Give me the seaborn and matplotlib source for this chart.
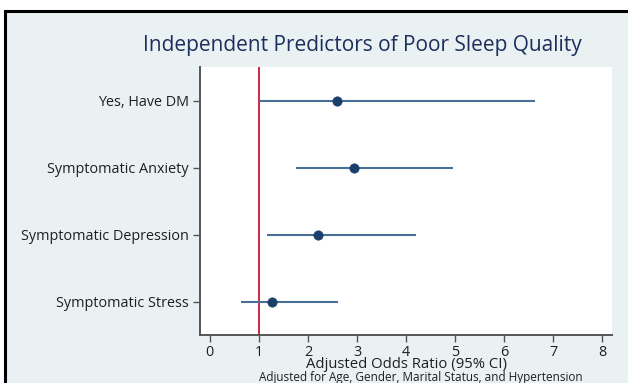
import matplotlib
matplotlib.use("Agg")
import matplotlib.pyplot as plt
import seaborn as sns
import pandas as pd
from matplotlib.patches import Rectangle

# Adjusted odds ratios with 95% confidence intervals
predictors = ["Yes, Have DM", "Symptomatic Anxiety", "Symptomatic Depression", "Symptomatic Stress"]
odds_ratio = [2.59, 2.94, 2.21, 1.26]
ci_lower = [1.01, 1.75, 1.16, 0.63]
ci_upper = [6.62, 4.95, 4.20, 2.61]
x_ticks = [0, 1, 2, 3, 4, 5, 6, 7, 8]

df = pd.DataFrame({"predictor": predictors, "or": odds_ratio,
                   "lo": ci_lower, "hi": ci_upper})

sns.set_theme(style="white")
plt.rcParams["font.family"] = ["Open Sans", "DejaVu Sans"]

bg = "#eaf1f3"
navy = "#1a3f6b"
line_col = "#4a6f96"
text_col = "#1f1f1f"

fig = plt.figure(figsize=(6.28, 3.83), dpi=100)
fig.patch.set_facecolor("white")

# Framed panel background, behind the axes
frame = Rectangle((5 / 628, -0.1), 1.1, 1 - 11 / 383 + 0.1,
                  transform=fig.transFigure, facecolor=bg,
                  edgecolor="black", linewidth=2.2, zorder=-10)
fig.patches.append(frame)

ax = fig.add_axes([200 / 628, 1 - 335 / 383, 412 / 628, 268 / 383])
ax.set_facecolor("white")

# Reference line at OR = 1
ax.axvline(1, color="#c8163c", linewidth=1.3, zorder=1)

# Confidence interval bars
ax.hlines(df["predictor"], df["lo"], df["hi"], color=line_col, linewidth=1.5, zorder=2)

# Point estimates
sns.scatterplot(data=df, x="or", y="predictor", ax=ax, color=navy, s=45,
                edgecolor=navy, linewidth=0.5, zorder=3, legend=False)

ax.set_ylim(3.5, -0.5)
ax.set_xlim(-0.2, 8.2)
ax.set_xticks(x_ticks)
ax.set_xticklabels([str(t) for t in x_ticks])

for side in ["top", "right"]:
    ax.spines[side].set_visible(False)
for side in ["left", "bottom"]:
    ax.spines[side].set_color("#555555")
    ax.spines[side].set_linewidth(1.4)

ax.tick_params(axis="both", which="major", length=5, width=1, color="#555555",
               labelsize=10.4, labelcolor=text_col, left=True, bottom=True)
ax.tick_params(axis="y", pad=3)
ax.tick_params(axis="x", pad=2)

ax.set_ylabel("")
ax.set_xlabel("Adjusted Odds Ratio (95% CI)", fontsize=10.7, color=text_col, labelpad=-2)

fig.text(362 / 628, 1 - 45 / 383, "Independent Predictors of Poor Sleep Quality",
         ha="center", va="center", fontsize=15, color="#1c2f5c")
fig.text(421 / 628, 1 - 378 / 383,
         "Adjusted for Age, Gender, Marital Status, and Hypertension",
         ha="center", va="center", fontsize=8.5, color=text_col)

fig.savefig("out.png", dpi=100, facecolor=fig.get_facecolor())
